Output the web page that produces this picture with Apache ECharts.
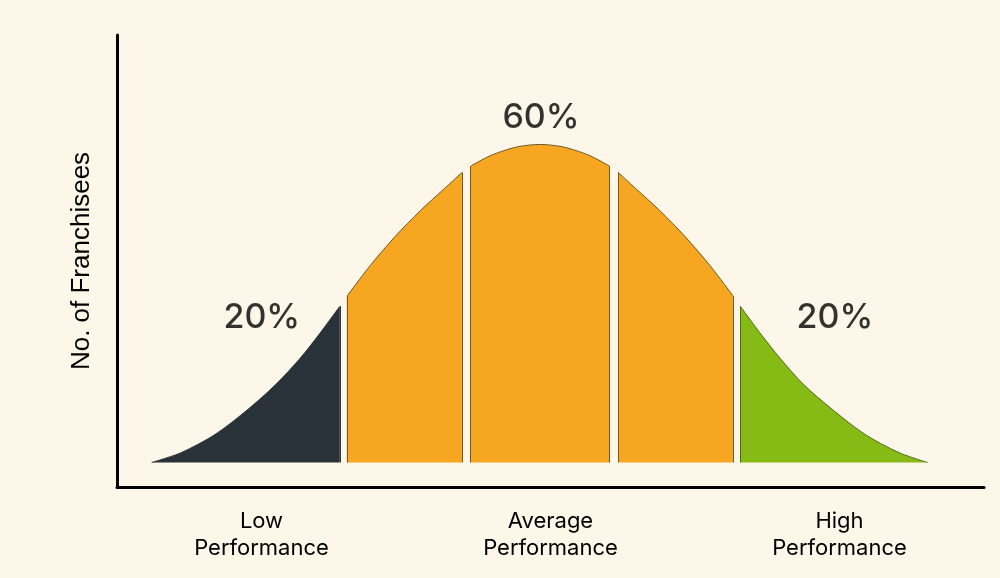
<!DOCTYPE html>
<html lang="en">
<head>
<meta charset="UTF-8">
<title>Franchisee performance</title>
<script src="https://cdn.jsdelivr.net/npm/echarts@6/dist/echarts.min.js"></script>
<style>
  html, body { margin: 0; padding: 0; background: #fdf7e9; }
  #main { width: 1000px; height: 578px; }
</style>
</head>
<body>
<div id="main"></div>
<script>
// bell curve (x: 0-100 performance scale, y: peak = 100)
var lowX = [4.0, 7.4, 11.3, 15.1, 18.3, 21.1, 23.4, 25.7];
var lowY = [0, 3.1, 8.8, 16.7, 24.5, 32.7, 40.6, 49.1];
var avgLeftX = [26.5, 29.2, 32.1, 35.0, 37.8, 39.8];
var avgLeftY = [52.2, 61.9, 71.1, 79.2, 86.2, 91.2];
var avgMidX = [40.8, 43.0, 44.8, 46.5, 48.8, 51.1, 52.8, 54.6, 56.8];
var avgMidY = [93.2, 96.4, 98.2, 99.4, 100, 99.4, 98.2, 96.4, 93.2];
var avgRightX = [57.8, 59.8, 62.6, 65.5, 68.4, 71.1];
var avgRightY = [91.2, 86.2, 79.2, 71.1, 61.9, 52.2];
var highX = [71.9, 74.2, 76.5, 79.2, 82.5, 86.3, 90.2, 93.5];
var highY = [49.1, 40.6, 32.7, 24.5, 16.7, 8.8, 3.1, 0];

var groups = ['Low\nPerformance', 'Average\nPerformance', 'High\nPerformance'];
var shareText = ['20%', '60%', '20%'];
var shareX = [16.7, 48.9, 82.8];
var shareY = [45.4, 108.3, 45.4];

// one slice of the bell: smooth top, filled to the baseline, with outlined sides
function area(name, xs, ys, fill, edge) {
    var n = xs.length - 1;
    var sides = [];
    if (ys[0] > 0) sides.push([{ coord: [xs[0], 0] }, { coord: [xs[0], ys[0]] }]);
    if (ys[n] > 0) sides.push([{ coord: [xs[n], 0] }, { coord: [xs[n], ys[n]] }]);
    return {
        name: name,
        type: 'line',
        data: xs.map(function (x, i) { return [x, ys[i]]; }),
        smooth: 0.3,
        symbol: 'none',
        silent: true,
        lineStyle: { color: edge, width: 1 },
        areaStyle: { color: fill, opacity: 1, origin: 0 },
        markLine: {
            silent: true,
            symbol: 'none',
            label: { show: false },
            lineStyle: { color: edge, width: 1, type: 'solid' },
            data: sides
        },
        z: 2
    };
}

var myChart = echarts.init(document.getElementById('main'));

var option = {
    backgroundColor: '#fdf7e9',
    animation: false,
    grid: { left: 117, right: 16, top: 35, bottom: 91 },
    xAxis: [{
        type: 'value',
        min: 0,
        max: 100,
        position: 'bottom',
        axisLine: { show: true, onZero: false, lineStyle: { color: '#000', width: 3 } },
        axisTick: { show: false },
        axisLabel: { show: false },
        splitLine: { show: false }
    }, {
        type: 'category',
        data: groups,
        position: 'bottom',
        boundaryGap: true,
        axisLine: { show: false },
        axisTick: { show: false },
        splitLine: { show: false },
        axisLabel: {
            interval: 0,
            margin: 21,
            color: '#000',
            fontFamily: 'Inter',
            fontSize: 22,
            lineHeight: 27
        }
    }],
    yAxis: {
        type: 'value',
        min: -7.7,
        max: 134.4,
        name: 'No. of Franchisees',
        nameLocation: 'middle',
        nameGap: 22,
        nameTextStyle: { fontFamily: 'Liberation Sans', fontSize: 26, color: '#000' },
        axisLine: { show: true, onZero: false, lineStyle: { color: '#000', width: 3 } },
        axisTick: { show: false },
        axisLabel: { show: false },
        splitLine: { show: false }
    },
    series: [
        area('Low', lowX, lowY, '#283238', '#283238'),
        area('Average 1', avgLeftX, avgLeftY, '#f6a621', '#6e5a2c'),
        area('Average 2', avgMidX, avgMidY, '#f6a621', '#6e5a2c'),
        area('Average 3', avgRightX, avgRightY, '#f6a621', '#6e5a2c'),
        area('High', highX, highY, '#86ba15', '#4e6a1c'),
        {
            type: 'scatter',
            silent: true,
            symbolSize: 0,
            data: shareX.map(function (x, i) { return [x, shareY[i], shareText[i]]; }),
            label: {
                show: true,
                position: 'inside',
                formatter: function (p) { return p.value[2]; },
                color: '#000',
                fontFamily: 'Inter',
                fontWeight: 500,
                fontSize: 34
            },
            z: 3
        }
    ]
};
myChart.setOption(option);
</script>
</body>
</html>
